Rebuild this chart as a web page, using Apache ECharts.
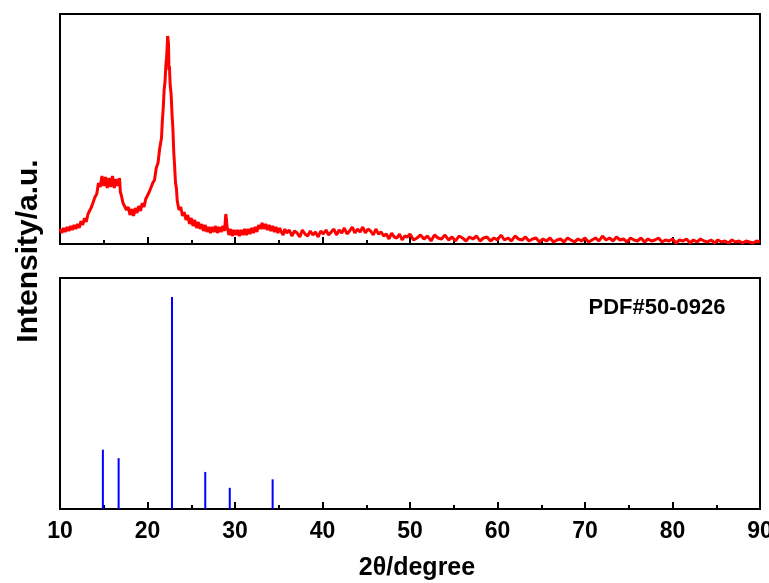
<!DOCTYPE html>
<html>
<head>
<meta charset="utf-8">
<script src="https://cdn.jsdelivr.net/npm/echarts@6/dist/echarts.min.js"></script>
<style>
  html, body { margin: 0; padding: 0; background: #fff; }
  #chart { width: 769px; height: 583px; }
</style>
</head>
<body>
<div id="chart"></div>
<script>
// Measured XRD pattern: [2θ (degree), intensity (counts)]
const measured = [
  [10.0,150],[10.2,110],[10.4,160],[10.6,120],[10.8,170],[11.0,130],[11.2,180],[11.4,140],[11.6,190],[11.8,150],
  [12.0,200],[12.2,160],[12.4,230],[12.6,190],[12.8,260],[13.0,220],[13.2,300],[13.4,290],[13.6,370],[13.8,380],
  [14.0,470],[14.2,500],[14.4,610],[14.6,570],[14.8,680],[15.0,580],[15.2,670],[15.4,560],[15.6,660],[15.8,570],
  [16.0,680],[16.2,560],[16.4,650],[16.6,580],[16.8,660],[16.9,520],[17.0,490],[17.2,410],[17.4,420],[17.6,340],
  [17.8,370],[18.0,290],[18.2,350],[18.4,280],[18.6,360],[18.8,310],[19.0,380],[19.2,330],[19.4,410],[19.6,370],
  [19.8,450],[20.0,430],[20.2,520],[20.4,510],[20.6,610],[20.8,640],[21.0,760],[21.2,810],[21.4,960],[21.6,1060],
  [21.7,1240],[21.8,1360],[21.9,1540],[22.0,1620],[22.1,1790],[22.2,1880],[22.3,2080],[22.35,2090],[22.4,2000],[22.45,1740],
  [22.5,1780],[22.6,1580],[22.7,1500],[22.8,1300],[22.9,1160],[23.0,920],[23.1,780],[23.2,610],[23.3,560],[23.4,430],
  [23.5,450],[23.6,340],[23.8,370],[24.0,280],[24.2,320],[24.4,240],[24.6,290],[24.8,200],[25.0,260],[25.2,180],
  [25.4,240],[25.6,160],[25.8,220],[26.0,150],[26.2,200],[26.4,130],[26.6,190],[26.8,120],[27.0,170],[27.2,110],
  [27.4,170],[27.6,120],[27.8,180],[28.0,110],[28.2,170],[28.4,120],[28.6,180],[28.8,130],[28.95,300],[29.1,170],
  [29.3,90],[29.5,150],[29.7,80],[29.9,140],[30.1,90],[30.3,140],[30.5,80],[30.7,140],[30.9,90],[31.1,150],
  [31.3,90],[31.5,150],[31.7,100],[31.9,160],[32.1,110],[32.3,170],[32.5,120],[32.7,190],[32.9,150],[33.1,210],
  [33.3,150],[33.5,200],[33.7,140],[33.9,190],[34.1,130],[34.3,180],[34.5,120],[34.7,170],[34.9,110],[35.1,160],
  [35.3,120],[35.5,90],[35.7,150],[35.9,110],[36.2,140],[36.5,80],[36.8,130],[37.1,110],[37.4,70],[37.7,140],
  [38.0,100],[38.3,80],[38.6,130],[38.9,90],[39.2,120],[39.5,70],[39.8,130],[40.1,100],[40.4,140],[40.7,90],
  [41.0,120],[41.3,150],[41.6,90],[41.9,140],[42.2,110],[42.5,160],[42.8,100],[43.1,130],[43.4,170],[43.7,110],
  [44.0,150],[44.3,120],[44.6,170],[44.9,110],[45.2,150],[45.5,130],[45.8,90],[46.1,150],[46.4,100],[46.7,120],
  [47.0,80],[47.3,100],[47.6,50],[47.9,110],[48.2,70],[48.5,60],[48.8,100],[49.1,40],[49.4,80],[49.7,70],
  [50.0,100],[50.4,40],[50.8,60],[51.2,90],[51.6,50],[52.0,80],[52.4,30],[52.8,90],[53.2,60],[53.6,50],
  [54.0,90],[54.4,40],[54.8,70],[55.2,30],[55.6,80],[56.0,60],[56.4,30],[56.8,70],[57.2,50],[57.6,80],
  [58.0,30],[58.4,60],[58.8,70],[59.2,30],[59.6,60],[60.0,40],[60.4,90],[60.8,40],[61.2,60],[61.6,30],
  [62.0,80],[62.4,50],[62.8,40],[63.2,70],[63.6,30],[64.0,50],[64.4,60],[64.8,20],[65.2,50],[65.6,30],
  [66.0,60],[66.4,20],[66.8,40],[67.2,50],[67.6,20],[68.0,60],[68.4,40],[68.8,20],[69.2,50],[69.6,30],
  [70.0,60],[70.4,20],[70.8,40],[71.2,60],[71.6,30],[72.0,80],[72.4,40],[72.8,60],[73.2,30],[73.6,70],
  [74.0,40],[74.4,50],[74.8,20],[75.2,60],[75.6,40],[76.0,30],[76.4,60],[76.8,20],[77.2,50],[77.6,30],
  [78.0,40],[78.4,60],[78.8,20],[79.2,40],[79.6,30],[80.0,50],[80.4,10],[80.8,40],[81.2,30],[81.6,50],
  [82.0,10],[82.4,40],[82.8,20],[83.2,50],[83.6,30],[84.0,20],[84.4,40],[84.8,10],[85.2,40],[85.6,20],
  [86.0,30],[86.4,10],[86.8,40],[87.2,20],[87.6,30],[88.0,10],[88.4,30],[88.8,20],[89.2,10],[89.6,30],
  [90.0,20]
];

// Standard card PDF#50-0926: line positions and relative intensities
const refAngles = [14.9, 16.7, 22.8, 26.6, 29.4, 34.3];
const refIntensity = [28, 24, 100, 17.5, 10, 14];
const refLabel = 'PDF#50-0926';

// Axis range and tick step
const xMin = 10, xMax = 90, xStep = 10;

const FONT = '"Liberation Sans", Arial, sans-serif';

const chart = echarts.init(document.getElementById('chart'), null, { renderer: 'canvas' });

function xAxisCfg(gridIndex, showLabels) {
  return {
    type: 'value', gridIndex: gridIndex, min: xMin, max: xMax, interval: xStep,
    axisLine: { show: true, onZero: false, lineStyle: { color: '#000', width: 2 } },
    axisTick: { show: true, inside: true, length: 7, lineStyle: { color: '#000', width: 2 } },
    minorTick: { show: true, splitNumber: 2, length: 4, lineStyle: { color: '#000', width: 2 } },
    splitLine: { show: false },
    axisLabel: {
      show: showLabels, color: '#000', fontSize: 23, fontWeight: 'bold', fontFamily: FONT, margin: 11
    },
    name: showLabels ? '2θ/degree' : '',
    nameLocation: 'middle', nameGap: 47,
    nameTextStyle: {
      color: '#000', fontSize: 25, fontWeight: 'bold', fontFamily: FONT, padding: [0, 0, 0, 14]
    }
  };
}

function yAxisCfg(gridIndex, max) {
  return {
    type: 'value', gridIndex: gridIndex, min: 0, max: max,
    axisLine: { show: true, lineStyle: { color: '#000', width: 2 } },
    axisTick: { show: false }, axisLabel: { show: false }, splitLine: { show: false }
  };
}

// Each reference line is a thin vertical stick from zero up to its intensity
function renderStick(params, api) {
  const base = api.coord([api.value(0), 0]);
  const top = api.coord([api.value(0), api.value(1)]);
  return {
    type: 'rect',
    shape: { x: base[0] - 1, y: top[1], width: 2, height: base[1] - top[1] },
    style: { fill: '#0000ff' }
  };
}

const gridBase = {
  left: 60, width: 700, show: true, borderColor: '#000', borderWidth: 2,
  backgroundColor: 'transparent', outerBoundsMode: 'none', containLabel: false
};

chart.setOption({
  animation: false,
  backgroundColor: '#fff',
  grid: [
    Object.assign({ top: 14, height: 230 }, gridBase),
    Object.assign({ top: 278, height: 231 }, gridBase)
  ],
  xAxis: [xAxisCfg(0, false), xAxisCfg(1, true)],
  yAxis: [yAxisCfg(0, 2300), yAxisCfg(1, 109)],
  graphic: [
    {
      type: 'text', x: 29, y: 251, rotation: Math.PI / 2,
      style: {
        text: 'Intensity/a.u.', fill: '#000', fontSize: 30, fontWeight: 'bold', fontFamily: FONT,
        align: 'center', verticalAlign: 'middle'
      }
    },
    {
      type: 'text', x: 657, y: 308,
      style: {
        text: refLabel, fill: '#000', fontSize: 22, fontWeight: 'bold', fontFamily: FONT,
        align: 'center', verticalAlign: 'middle'
      }
    }
  ],
  series: [
    {
      type: 'line', xAxisIndex: 0, yAxisIndex: 0, data: measured,
      showSymbol: false, symbol: 'none',
      lineStyle: { color: '#ff0000', width: 3 }
    },
    {
      type: 'custom', xAxisIndex: 1, yAxisIndex: 1,
      data: refAngles.map((a, i) => [a, refIntensity[i]]),
      renderItem: renderStick
    }
  ]
});
</script>
</body>
</html>
